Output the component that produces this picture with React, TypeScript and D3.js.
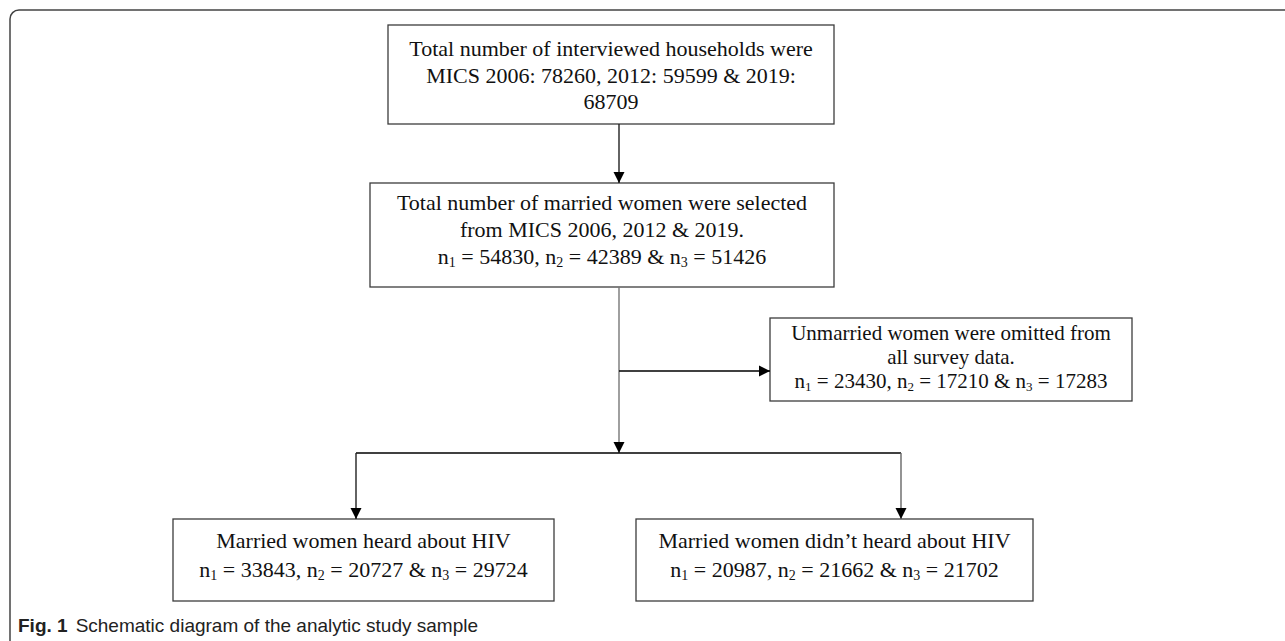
import * as d3 from 'd3';

// node texts ("_k" marks a subscript digit)
const householdLines = ['Total number of interviewed households were', 'MICS 2006: 78260, 2012: 59599 & 2019:', '68709'];
const marriedLines = ['Total number of married women were selected', 'from MICS 2006, 2012 & 2019.', 'n_1 = 54830, n_2 = 42389 & n_3 = 51426'];
const unmarriedLines = ['Unmarried women were omitted from', 'all survey data.', 'n_1 = 23430, n_2 = 17210 & n_3 = 17283'];
const heardLines = ['Married women heard about HIV', 'n_1 = 33843, n_2 = 20727 & n_3 = 29724'];
const notHeardLines = ['Married women didn\u2019t heard about HIV', 'n_1 = 20987, n_2 = 21662 & n_3 = 21702'];
const captionLabel = 'Fig. 1';
const captionText = 'Schematic diagram of the analytic study sample';

const W = 1285;
const H = 641;

const boxes = [
  { lines: householdLines, x0: 388, x1: 834, y0: 25, y1: 124, base: 56, step: 26.5, fs: 22 },
  { lines: marriedLines, x0: 370, x1: 834, y0: 183, y1: 287, base: 210, step: 27, fs: 22 },
  { lines: unmarriedLines, x0: 770, x1: 1132, y0: 318, y1: 401, base: 340, step: 24, fs: 21 },
  { lines: heardLines, x0: 173, x1: 554, y0: 519, y1: 601, base: 548, step: 29, fs: 22 },
  { lines: notHeardLines, x0: 636, x1: 1033, y0: 519, y1: 601, base: 548, step: 29, fs: 22 },
];

const spineX = 619;
const splitY = 453;
const branchY = 371;
const leftDropX = 356;
const rightDropX = 901;

type Pt = [number, number];

const connectors: { pts: Pt[]; arrow: boolean; color: string }[] = [
  { pts: [[spineX, 124], [spineX, 183]], arrow: true, color: '#222' },
  { pts: [[spineX, 287], [spineX, splitY]], arrow: true, color: '#777' },
  { pts: [[spineX, branchY], [770, branchY]], arrow: true, color: '#000' },
  { pts: [[leftDropX, splitY], [rightDropX, splitY]], arrow: false, color: '#000' },
  { pts: [[leftDropX, splitY], [leftDropX, 519]], arrow: true, color: '#222' },
  { pts: [[rightDropX, splitY], [rightDropX, 519]], arrow: true, color: '#666' },
];

const line = d3.line<Pt>();

function arrowHead(from: Pt, to: Pt) {
  const ang = Math.atan2(to[1] - from[1], to[0] - from[0]);
  const len = 11;
  const half = 5.5;
  const bx = to[0] - len * Math.cos(ang);
  const by = to[1] - len * Math.sin(ang);
  const nx = -Math.sin(ang) * half;
  const ny = Math.cos(ang) * half;
  return line([to, [bx + nx, by + ny], [bx - nx, by - ny]]) + 'Z';
}

function SubText({ text, x, y, fs }: { text: string; x: number; y: number; fs: number }) {
  const parts = text.split(/_(\d)/);
  const spans: JSX.Element[] = [];
  let shifted = false;
  parts.forEach((p, i) => {
    if (i % 2 === 1) {
      spans.push(<tspan key={i} fontSize={Math.round(fs * 0.64)} dy={3}>{p}</tspan>);
      shifted = true;
    } else if (p.length) {
      spans.push(<tspan key={i} dy={shifted ? -3 : 0}>{p}</tspan>);
      shifted = false;
    }
  });
  return (
    <text x={x} y={y} textAnchor="middle" fontFamily="'Liberation Serif', 'Times New Roman', serif" fontSize={fs} fill="#111">
      {spans}
    </text>
  );
}

export default function App() {
  return (
    <div style={{ position: 'absolute', left: 0, top: 0, width: W, height: H, background: '#fff' }}>
      <svg width={W} height={H}>
        <rect width={W} height={H} fill="#fff" />
        <path d={`M10,${H + 20} L10,19 A9,9 0 0 1 19,10 L${W + 20},10`} fill="none" stroke="#444" strokeWidth={1.5} />

        {boxes.map((b, i) => (
          <g key={i}>
            <rect x={b.x0} y={b.y0} width={b.x1 - b.x0} height={b.y1 - b.y0} fill="#fff" stroke="#3c3c3c" strokeWidth={1.3} />
            {b.lines.map((t, j) => (
              <SubText key={j} text={t} x={(b.x0 + b.x1) / 2} y={b.base + j * b.step} fs={b.fs} />
            ))}
          </g>
        ))}

        {connectors.map((c, i) => {
          const n = c.pts.length;
          const from = c.pts[n - 2];
          const to = c.pts[n - 1];
          return (
            <g key={i}>
              <path d={line(c.pts) ?? ''} fill="none" stroke={c.color} strokeWidth={1.4} />
              {c.arrow && <path d={arrowHead(from, to)} fill="#000" />}
            </g>
          );
        })}

        <text x={18} y={632} fontFamily="'Liberation Sans', Arial, sans-serif" fontSize={19} fill="#222">
          <tspan fontWeight="bold">{captionLabel}</tspan>
          <tspan dx={8}>{captionText}</tspan>
        </text>
      </svg>
    </div>
  );
}
